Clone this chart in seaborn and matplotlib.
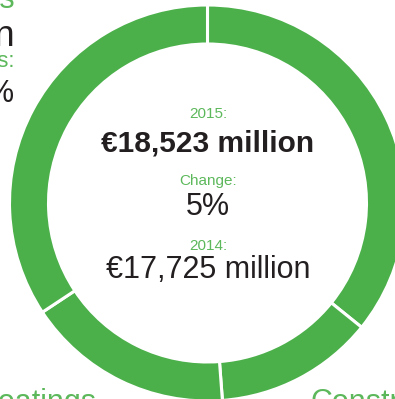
import matplotlib
matplotlib.use("Agg")
import matplotlib.pyplot as plt
import seaborn as sns

# Share of sales by segment (%), clockwise from 12 o'clock
segments = ["Industrial", "Construction", "Coatings", "Consumer"]
shares = [35.8, 13.0, 16.9, 34.3]

# Headline figures shown in the hole of the ring
year_now, sales_now = "2015:", "€18,523 million"
change_label, change_value = "Change:", "5%"
year_prev, sales_prev = "2014:", "€17,725 million"

# Neighbouring panel text (left edge) and segment captions (bottom)
side_title, side_value, side_label, side_pct = "Sales by markets", "€4,210 million", "Share of sales:", "23%"
bottom_left_label, bottom_right_label = "Coatings", "Construction"

sns.set_theme(style="white")
plt.rcParams["font.family"] = ["Liberation Sans", "DejaVu Sans"]

GREEN = "#4bb04a"
GREEN_TXT = "#5cb85b"
DARK = "#231f20"

W, H = 395, 399
fig = plt.figure(figsize=(W / 100, H / 100), dpi=100)
fig.patch.set_facecolor("white")

# ring geometry in pixels (centre measured from the top-left corner)
cx, cy, r_out, r_in = 207.5, 203.0, 198.0, 159.0
ax = fig.add_axes([(cx - r_out) / W, (H - cy - r_out) / H, 2 * r_out / W, 2 * r_out / H])
ax.pie(
    shares,
    labels=None,
    colors=[GREEN] * len(shares),
    startangle=90,
    counterclock=False,
    radius=1.0,
    wedgeprops=dict(width=(r_out - r_in) / r_out, edgecolor="white", linewidth=2.2),
)
ax.set_xlim(-1, 1)
ax.set_ylim(-1, 1)
ax.set_aspect("auto")
ax.axis("off")


def put(x, y, s, size, color, weight="normal", ha="center"):
    fig.text(x / W, 1 - y / H, s, fontsize=size, color=color, fontweight=weight,
             ha=ha, va="baseline")


# centre block
put(208, 118, year_now, 11, GREEN_TXT)
put(208, 151, sales_now, 21.5, DARK, weight="bold")
put(208, 185, change_label, 11, GREEN_TXT)
put(208, 215, change_value, 22, DARK)
put(208, 250, year_prev, 11, GREEN_TXT)
put(208, 278, sales_prev, 22, DARK)

# neighbouring panel, mostly outside the canvas
put(15, 8, side_title, 22, GREEN_TXT, ha="right")
put(15, 45, side_value, 26, DARK, ha="right")
put(15, 67, side_label, 16, GREEN_TXT, ha="right")
put(15, 102, side_pct, 22, DARK, ha="right")

# segment captions along the bottom edge
put(97, 411, bottom_left_label, 22, GREEN_TXT, ha="right")
put(311, 411, bottom_right_label, 22, GREEN_TXT, ha="left")

fig.savefig("out.png", dpi=100, facecolor="white")
